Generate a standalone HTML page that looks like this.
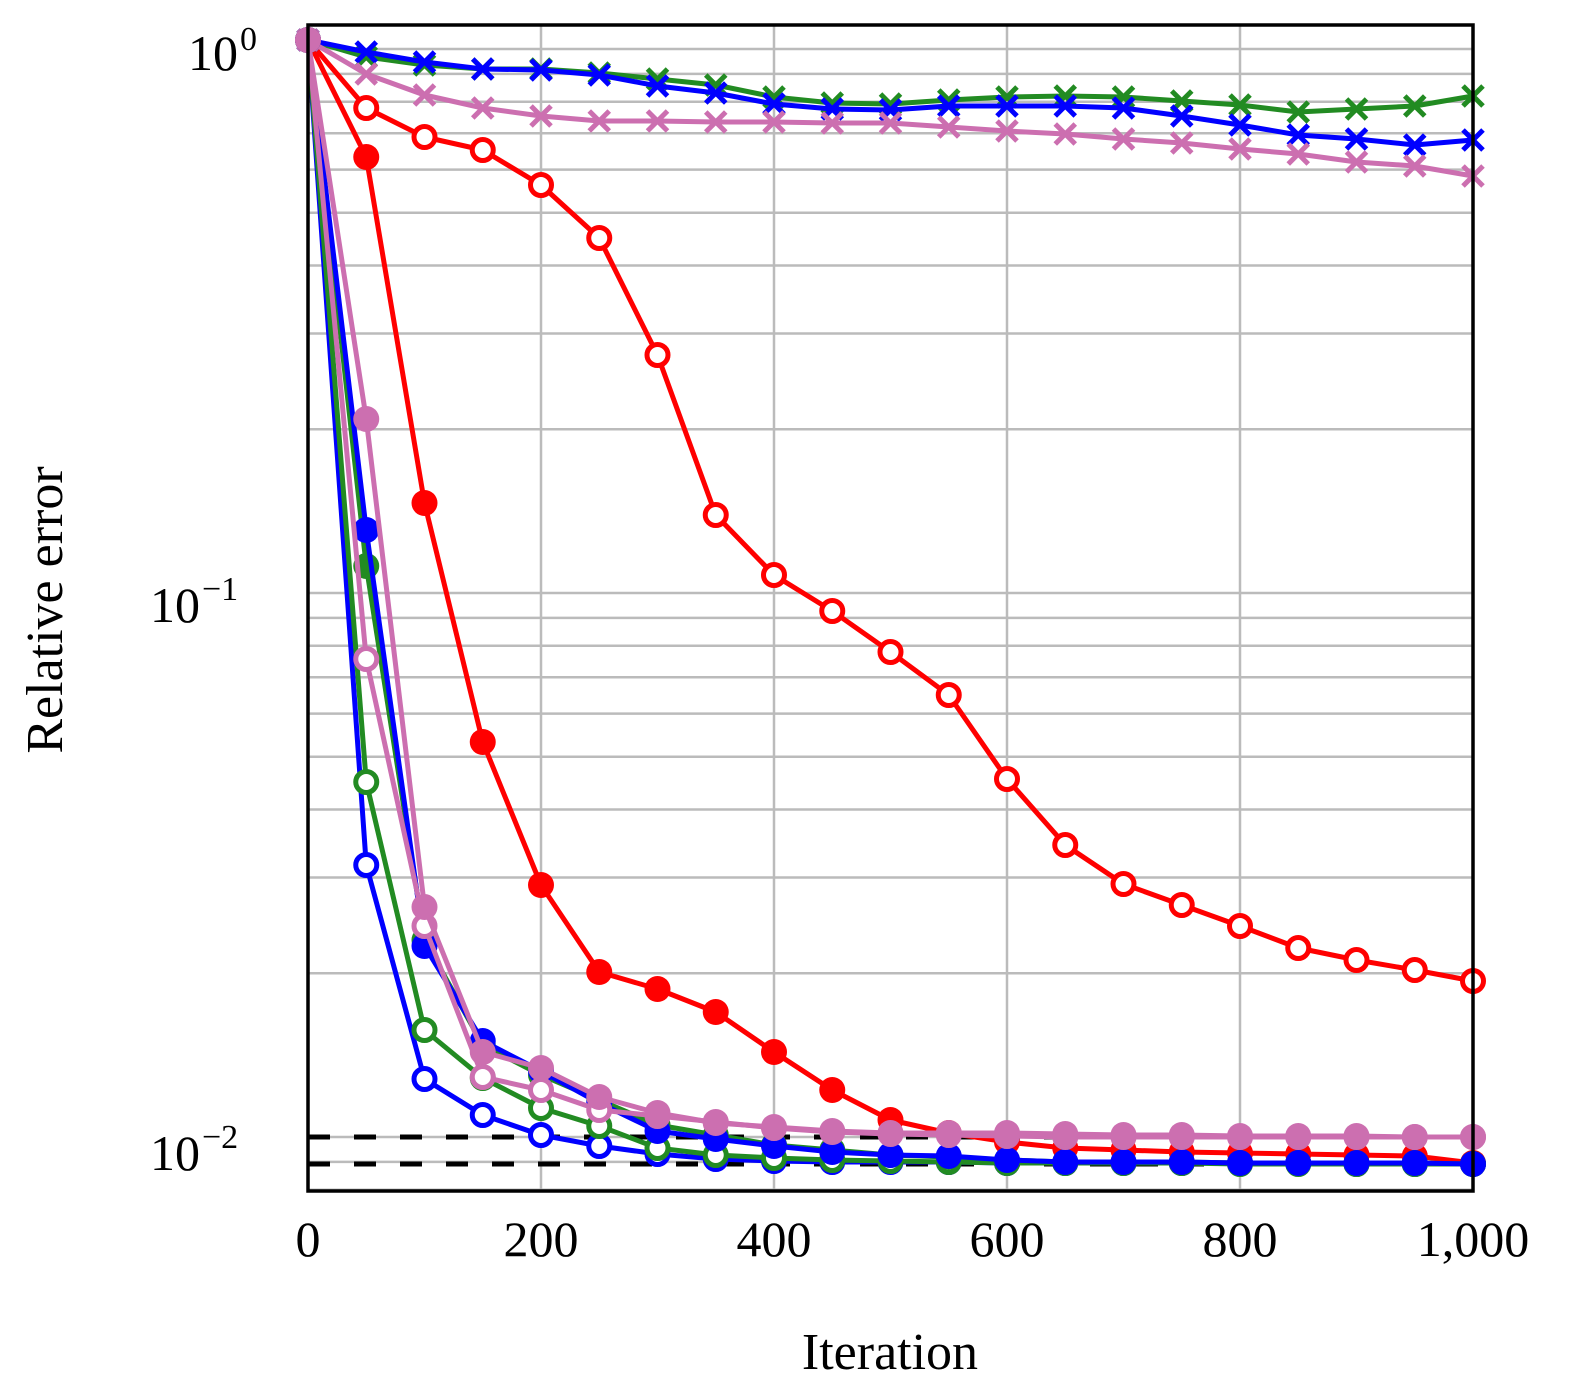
<!DOCTYPE html>
<html><head><meta charset="utf-8"><style>body{margin:0;background:#fff}svg{display:block}</style></head>
<body>
<svg id="s" width="1575" height="1399" xmlns="http://www.w3.org/2000/svg" font-family="Liberation Serif, serif">
<g id="grid"></g>
<line x1="308" y1="1137" x2="1473" y2="1137" stroke="#000" stroke-width="5" stroke-dasharray="22,24"/>
<line x1="308" y1="1164" x2="1473" y2="1164" stroke="#000" stroke-width="5" stroke-dasharray="22,24"/>
<g id="data"></g>
<rect x="308" y="25" width="1165" height="1166" fill="none" stroke="#000" stroke-width="3.5"/>
<g font-size="50" fill="#000">
<text x="308" y="1256" text-anchor="middle">0</text>
<text x="541" y="1256" text-anchor="middle">200</text>
<text x="774" y="1256" text-anchor="middle">400</text>
<text x="1007" y="1256" text-anchor="middle">600</text>
<text x="1240" y="1256" text-anchor="middle">800</text>
<text x="1473" y="1256" text-anchor="middle">1,000</text>
<text x="188" y="70">10</text><text x="240" y="50" font-size="34">0</text>
<text x="150" y="622">10</text><text x="202" y="600" font-size="34">−1</text>
<text x="150" y="1170">10</text><text x="202" y="1148" font-size="34">−2</text>
<text x="890" y="1369" text-anchor="middle" font-size="52">Iteration</text>
<text transform="translate(62,610) rotate(-90)" text-anchor="middle" font-size="52">Relative error</text>
</g>
</svg>
<script>
const NS="http://www.w3.org/2000/svg";
function el(p,t,a){const e=document.createElementNS(NS,t);for(const k in a)e.setAttribute(k,a[k]);p.appendChild(e);return e;}
const g=document.getElementById('grid');
const Y=v=>1137-544*(Math.log10(v)+2);
for(let d=-3;d<=0;d++)for(let m=1;m<10;m++){const y=Y(m*Math.pow(10,d));if(y<26||y>1190)continue;
el(g,'line',{x1:308,x2:1473,y1:y,y2:y,stroke:'#bbb','stroke-width':2.5});}
for(let i=1;i<5;i++){const x=308+233*i;el(g,'line',{x1:x,x2:x,y1:25,y2:1191,stroke:'#bbb','stroke-width':2.5});}
const dg=document.getElementById('data');
const X=i=>308+58.25*i;
const S=[
['#ff0000','o',[40,108,137,150,185,238,355,515,575,611,652,695,779,845,884,905,926,948,960,970,981]],
['#ff0000','f',[40,157,503,742,885,972,989,1012,1052,1090,1120,1133,1142,1148,1150,1152,1153,1154,1155,1156,1163]],
['#228b22','x',[40,57,65,69,69,73,79,85,97,103,104,100,97,96,97,101,105,112,109,106,96]],
['#0000ff','x',[40,52,62,69,70,75,86,93,104,109,110,106,106,106,108,116,125,135,139,145,140]],
['#cc6fb0','x',[40,74,95,108,116,121,121,122,122,123,123,127,131,134,139,143,149,154,162,166,176]],
['#0000ff','o',[40,865,1079,1115,1135,1146,1154,1159,1161,1162,1162,1162,1163,1163,1163,1163,1163,1163,1164,1164,1164]],
['#228b22','o',[40,782,1030,1078,1108,1126,1148,1155,1158,1160,1161,1162,1163,1163,1163,1163,1164,1164,1164,1164,1164]],
['#228b22','f',[40,566,940,1045,1075,1100,1125,1135,1145,1150,1155,1157,1160,1162,1162,1162,1163,1163,1163,1163,1164]],
['#0000ff','f',[40,530,946,1041,1071,1103,1131,1139,1146,1152,1155,1156,1160,1162,1162,1162,1163,1163,1163,1163,1164]],
['#cc6fb0','o',[40,659,926,1077,1090,1110,1116,1122,1128,1132,1134,1135,1136,1137,1137,1137,1137,1137,1137,1137,1137]],
['#cc6fb0','f',[40,419,907,1052,1068,1097,1113,1123,1127,1131,1133,1133,1133,1134,1135,1135,1136,1136,1136,1137,1137]],
];
for(const [c,m,ys] of S){
 el(dg,'polyline',{points:ys.map((y,i)=>X(i)+','+y).join(' '),fill:'none',stroke:c,'stroke-width':5,'stroke-linejoin':'round'});
 ys.forEach((y,i)=>{const x=X(i);
  if(m==='x'){el(dg,'path',{d:`M${x-10},${y-10}L${x+10},${y+10}M${x-10},${y+10}L${x+10},${y-10}`,stroke:c,'stroke-width':5});}
  else if(m==='o')el(dg,'circle',{cx:x,cy:y,r:10.5,fill:'#fff',stroke:c,'stroke-width':5});
  else el(dg,'circle',{cx:x,cy:y,r:13,fill:c});
 });
}
</script>
</body></html>
